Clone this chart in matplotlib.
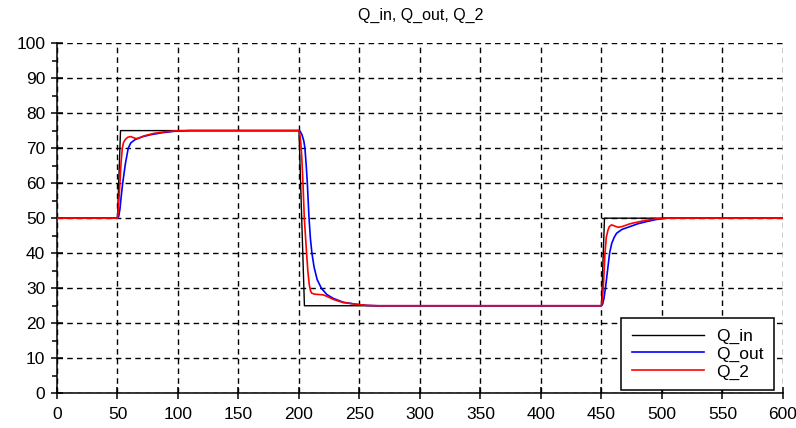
import matplotlib.pyplot as plt

plt.rcParams['font.family'] = ['Liberation Sans', 'DejaVu Sans']

# Q_in: ideal step input
t_in = [0, 50, 52.5, 200, 204.5, 450, 452.5, 600]
q_in = [50, 50, 75, 75, 25, 25, 50, 50]

# Q_out: blue response
t_out = [0, 50, 51, 52, 53, 54.3, 56.5, 58.9, 61, 64.5, 70, 77, 87, 97, 110,
         200, 201, 202.5, 204, 204.9, 206, 206.9, 208.3, 209.5, 210.7, 212.5, 215,
         218.5, 223, 228.4, 236.6, 247.7, 256, 265,
         450, 451, 452, 453.3, 455, 456.7, 458.5, 460.5, 462.5, 467, 473.6, 480,
         487, 495, 503, 600]
q_out = [50, 50, 50.5, 52.5, 56, 60, 65.5, 70, 71.5, 72.4, 73.2, 73.8, 74.4, 74.8, 75,
         75, 74.8, 73.8, 72, 70, 65, 60, 50, 44, 40, 36, 32.5,
         30, 28.2, 27.1, 26, 25.4, 25.1, 25,
         25, 25.5, 27, 30, 35, 40, 42.8, 44.5, 45.7, 46.8, 47.6, 48.4,
         49, 49.6, 50, 50]

# Q_2: red response
t_2 = [0, 50, 50.8, 52, 53, 54, 55, 56.5, 58.5, 61, 63, 65.5, 68, 72, 80, 90, 100, 108,
       200, 200.7, 201.5, 202.2, 203.3, 204.4, 206.3, 207.3, 208.5, 209.5, 210.5, 213,
       217, 220, 223, 228.4, 236.6, 247.7, 256, 265,
       450, 450.8, 451.5, 452.9, 454, 455.3, 456.5, 458.4, 460.5, 463.9, 467, 473.6,
       480, 487, 495, 505, 600]
q_2 = [50, 50, 53, 60, 66, 70, 71.6, 72.5, 73.1, 73.3, 73.0, 72.7, 72.9, 73.5, 74.2, 74.7, 74.95, 75,
       75, 74, 71.5, 68, 60, 50, 40, 35, 31, 29.3, 28.6, 28.3,
       28.2, 28.1, 27.7, 26.8, 25.9, 25.4, 25.1, 25,
       25, 27, 30, 40, 44.5, 46.5, 47.6, 48.1, 47.8, 47.4, 47.6, 48.4,
       48.9, 49.4, 49.8, 50, 50]

xticks = list(range(0, 601, 50))
yticks = list(range(0, 101, 10))

fig = plt.figure(figsize=(7.96, 4.28), dpi=100)
ax = fig.add_axes([0.0716, 0.081, 0.912, 0.8185])

ax.plot(t_in, q_in, color='black', lw=1.0, label='Q_in', zorder=3)
ax.plot(t_out, q_out, color='#0000ff', lw=1.2, label='Q_out', zorder=3)
ax.plot(t_2, q_2, color='#ff0000', lw=1.2, label='Q_2', zorder=3)

ax.set_xlim(0, 600)
ax.set_ylim(0, 100)
ax.set_xticks(xticks)
ax.set_yticks(yticks)
ax.set_yticks(range(5, 100, 10), minor=True)

ax.grid(True, which='major', color='black', linestyle=(0, (4, 3)), linewidth=1.0, zorder=1)
ax.set_axisbelow(True)

ax.spines['top'].set_visible(False)
ax.spines['right'].set_visible(False)
ax.spines['left'].set_linewidth(1.1)
ax.spines['bottom'].set_linewidth(1.1)

ax.tick_params(axis='both', which='major', direction='inout', length=9, width=1.1,
               labelsize=12.5, color='black')
ax.tick_params(axis='y', which='minor', direction='out', length=3.5, width=1.1)
ax.tick_params(axis='y', which='major', pad=4)
ax.tick_params(axis='x', which='major', pad=5)

fig.text(0.528, 1 - 15 / 428, 'Q_in, Q_out, Q_2', ha='center', va='center', fontsize=11.5)

leg = ax.legend(loc='lower right', bbox_to_anchor=(774 / 796, 1 - 390 / 428),
                bbox_transform=fig.transFigure, borderaxespad=0, fancybox=False,
                framealpha=1, edgecolor='black', fontsize=12.5, handlelength=4.15,
                handletextpad=0.7, borderpad=0.6, labelspacing=0.15)
leg.get_frame().set_linewidth(1.1)

fig.savefig('out.png', dpi=100)
